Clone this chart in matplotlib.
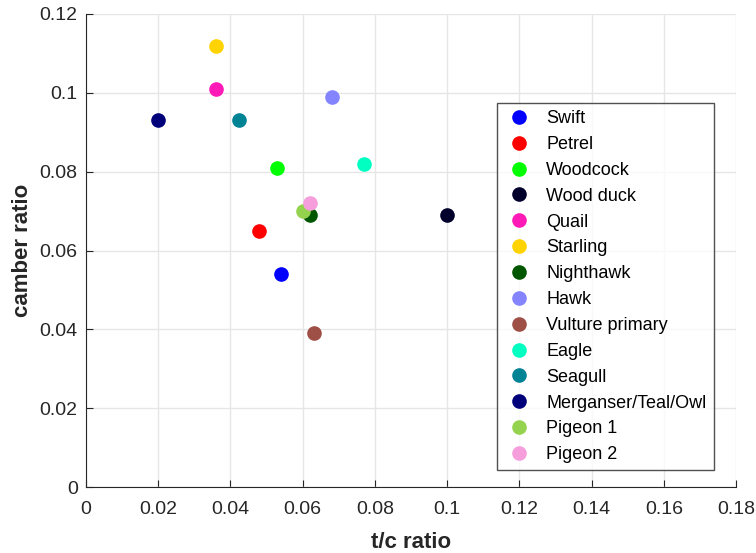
import matplotlib.pyplot as plt

plt.rcParams['font.family'] = ['Liberation Sans', 'DejaVu Sans']

birds = ["Swift", "Petrel", "Woodcock", "Wood duck", "Quail", "Starling",
         "Nighthawk", "Hawk", "Vulture primary", "Eagle", "Seagull",
         "Merganser/Teal/Owl", "Pigeon 1", "Pigeon 2"]
tc_ratio = [0.054, 0.048, 0.053, 0.100, 0.036, 0.036,
            0.062, 0.068, 0.063, 0.077, 0.0425, 0.020, 0.060, 0.062]
camber_ratio = [0.054, 0.065, 0.081, 0.069, 0.101, 0.112,
                0.069, 0.099, 0.039, 0.082, 0.093, 0.093, 0.070, 0.072]
colors = ["#0000FF", "#FF0000", "#00FF00", "#00002B", "#FF1AB8", "#FFD300",
          "#005700", "#8484FF", "#9E4F46", "#00FFC1", "#008395", "#00007B",
          "#95D34F", "#F69EDC"]

fig = plt.figure(figsize=(7.56, 5.53), dpi=100)
ax = fig.add_axes([0.1138, 0.1193, 0.8597, 0.8554])

for name, x, y, c in zip(birds, tc_ratio, camber_ratio, colors):
    ax.plot(x, y, 'o', color=c, markersize=9.5, label=name)

ax.set_xlim(0, 0.18)
ax.set_ylim(0, 0.12)
ax.set_xticks([0, 0.02, 0.04, 0.06, 0.08, 0.1, 0.12, 0.14, 0.16, 0.18])
ax.set_xticklabels(["0", "0.02", "0.04", "0.06", "0.08", "0.1", "0.12", "0.14", "0.16", "0.18"])
ax.set_yticks([0, 0.02, 0.04, 0.06, 0.08, 0.1, 0.12])
ax.set_yticklabels(["0", "0.02", "0.04", "0.06", "0.08", "0.1", "0.12"])
ax.grid(True, color='#e6e6e6', linewidth=1)
ax.set_axisbelow(True)
ax.tick_params(direction='in', length=5, labelsize=14, colors='#262626')
ax.tick_params(axis='x', pad=10)
ax.tick_params(axis='y', pad=6)
for s in ['top', 'right']:
    ax.spines[s].set_visible(False)
for s in ['left', 'bottom']:
    ax.spines[s].set_color('#262626')

ax.set_xlabel("t/c ratio", fontsize=16, fontweight='bold', color='#262626', labelpad=10)
ax.set_ylabel("camber ratio", fontsize=16, fontweight='bold', color='#262626', labelpad=5)

leg = ax.legend(loc='upper left', bbox_to_anchor=(497 / 756, 1 - 103 / 553),
                bbox_transform=fig.transFigure, fontsize=13, frameon=True,
                fancybox=False, edgecolor='#262626', handletextpad=0.68,
                labelspacing=0.49, borderpad=0.4, handlelength=1.64,
                borderaxespad=0)
leg.get_frame().set_linewidth(1)

plt.savefig("out.png", dpi=100)
